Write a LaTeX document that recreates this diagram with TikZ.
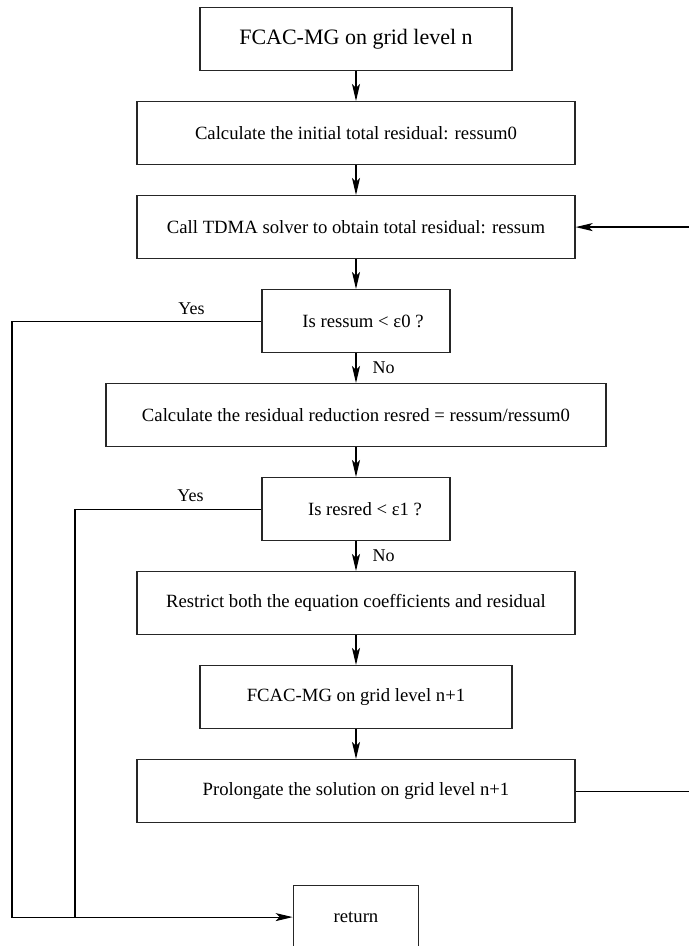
\documentclass[tikz,border=0pt]{standalone}
\usepackage{fontspec}
\setmainfont{Liberation Serif}
\usetikzlibrary{arrows.meta,positioning}
\tikzset{
  proc/.style={rectangle, draw=black!85, line width=0.6pt, minimum width=#1,
               minimum height=31.5pt, inner sep=0pt, align=center,
               font=\fontsize{9.35}{11}\selectfont},
  arr/.style={-{Stealth[length=8.5pt,width=4pt,inset=2pt]}, line width=0.6pt},
  lien/.style={line width=0.6pt},
  lbl/.style={font=\fontsize{9}{11}\selectfont, inner sep=0pt},
}

\begin{document}
\begin{tikzpicture}[node distance=14.9pt]
    \useasboundingbox (0,0) rectangle (344.5pt,-473pt);
    \node[proc=156pt, anchor=north, font=\fontsize{11}{13}\selectfont] (start) at (178pt,-3.5pt)
      {FCAC-MG on grid level n};
    \node[proc=219pt, below=of start] (init) {Calculate the initial total residual: ressum0};
    \node[proc=219pt, below=of init] (tdma) {Call TDMA solver to obtain total residual: ressum};
    \node[proc=94pt, below=of tdma] (test0) {\hspace*{7pt}Is ressum < ε0 ?};
    \node[proc=250pt, below=of test0] (resred)
      {Calculate the residual reduction resred = ressum/ressum0};
    \node[proc=94pt, below=of resred] (test1) {\hspace*{9pt}Is resred < ε1 ?};
    \node[proc=219pt, below=of test1] (restr) {Restrict both the equation coefficients and residual};
    \node[proc=156pt, below=of restr] (fine) {FCAC-MG on grid level n+1};
    \node[proc=219pt, below=of fine] (prol) {Prolongate the solution on grid level n+1};
    \node[proc=62.75pt, below=30.9pt of prol] (ret) {return};

    \coordinate (left0) at (6pt,0);
    \coordinate (left1) at (37.5pt,0);
    \coordinate (right0) at (348pt,0);

    \foreach \a/\b in {start/init, init/tdma, tdma/test0, resred/test1, restr/fine, fine/prol}
      \draw[arr] (\a) -- (\b);
    \draw[arr] (test0) -- node[lbl, right=8pt] {No} (resred);
    \draw[arr] (test1) -- node[lbl, right=8pt] {No} (restr);

    \draw[arr] (test0.west) -- node[lbl, above=3pt, pos=.28] {Yes} (test0.west -| left0) |- (ret.west);
    \draw[lien] (test1.west) -- node[lbl, above=3.5pt, pos=.38] {Yes} (test1.west -| left1)
      -- (left1 |- ret.west);
    \draw[arr] (prol.east) -- (prol.east -| right0) |- (tdma.east);
  \end{tikzpicture}
\end{document}
